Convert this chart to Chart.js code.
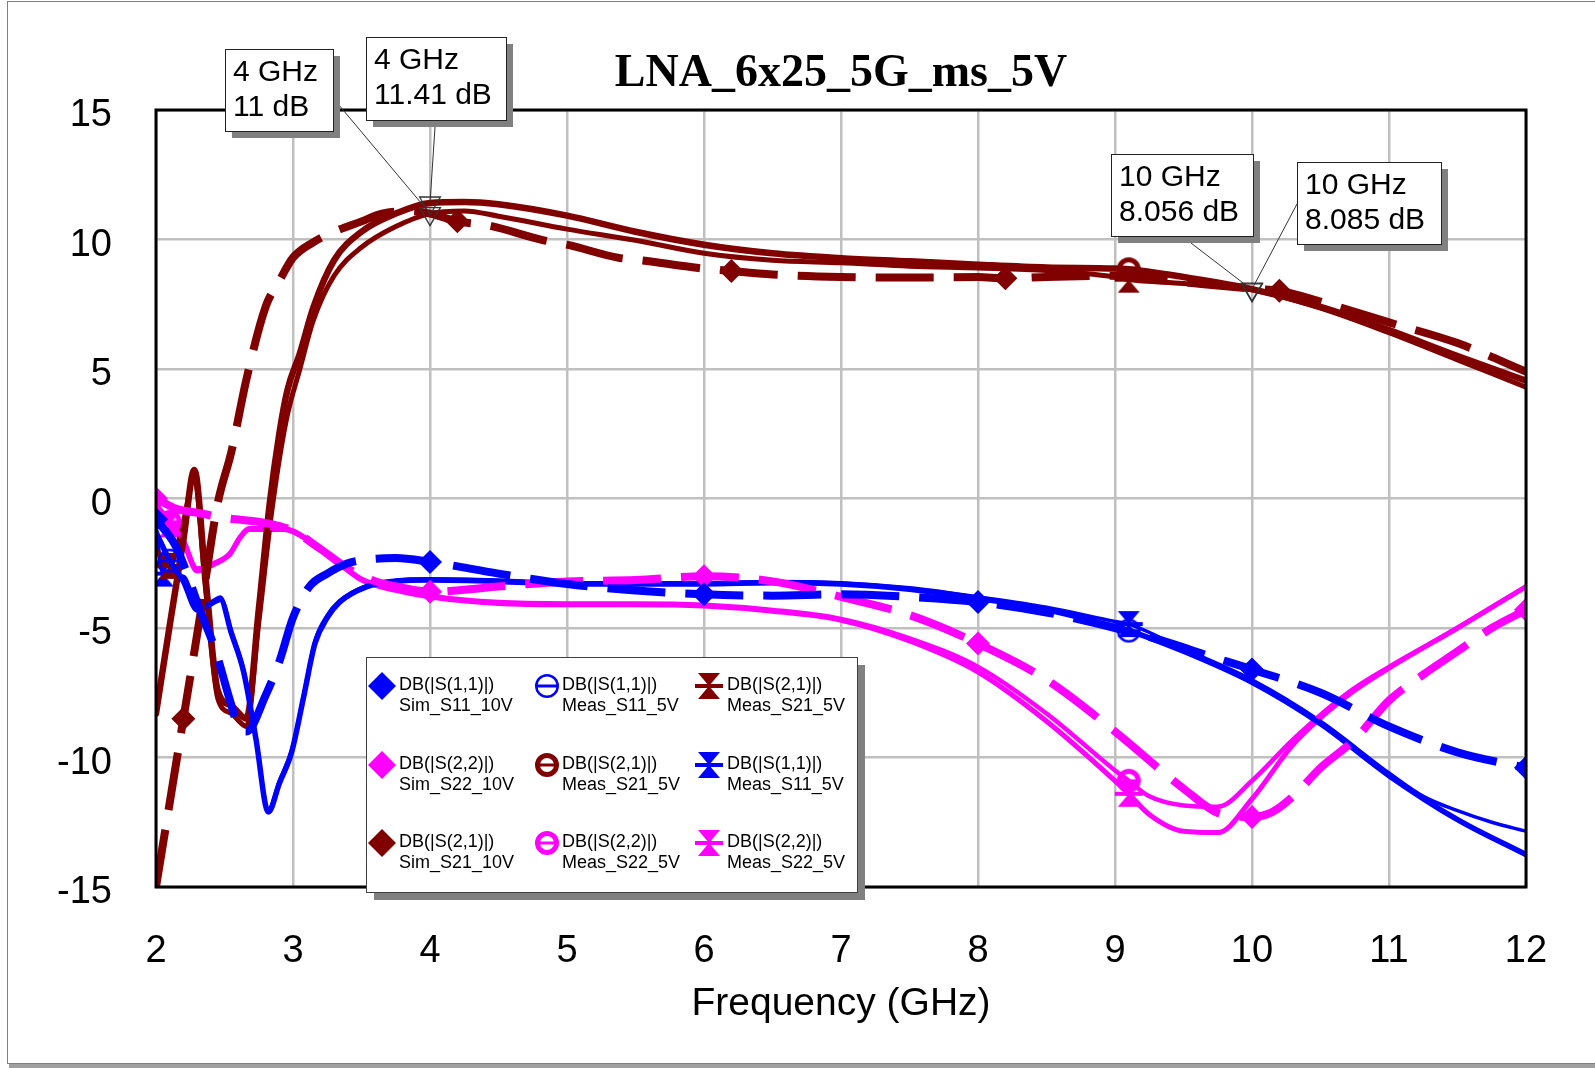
<!DOCTYPE html>
<html><head><meta charset="utf-8">
<script src="https://cdn.jsdelivr.net/npm/chart.js@4.4.1/dist/chart.umd.min.js"></script>
<style>html,body{margin:0;padding:0;background:#fff;overflow:hidden}canvas{display:block}</style>
</head><body>
<canvas id="c" width="1595" height="1068"></canvas>
<script>
// ---------- DATA ----------
const chartTitle = 'LNA_6x25_5G_ms_5V';
const xTitle = 'Frequency (GHz)';

// Sim S11 10V (blue, dashed, diamonds)
const freqSimS11 = [2.0,2.14,2.22,2.32,2.43,2.54,2.6,2.66,2.8,2.9,3.0,3.12,3.25,3.4,3.55,3.75,4.0,4.5,5.0,5.5,6.0,6.5,7.0,7.5,8.0,8.5,9.0,9.35,9.7,10.0,10.5,11.0,11.5,12.0];
const simS11 = [-0.8,-1.8,-2.8,-4.3,-5.8,-7.8,-8.8,-9.0,-7.6,-6.3,-4.6,-3.4,-2.9,-2.5,-2.35,-2.3,-2.45,-2.9,-3.3,-3.55,-3.7,-3.75,-3.7,-3.8,-4.0,-4.4,-5.0,-5.5,-6.1,-6.6,-7.5,-8.8,-9.8,-10.4];
// Sim S22 10V (magenta, dashed, diamonds)
const freqSimS22 = [2.0,2.15,2.3,2.5,2.8,3.0,3.2,3.4,3.6,3.8,4.0,4.5,5.0,5.5,6.0,6.5,7.0,7.5,8.0,8.5,9.0,9.5,9.78,10.0,10.15,10.3,10.5,10.75,11.0,11.25,11.5,11.75,12.0];
const simS22 = [0.0,-0.4,-0.55,-0.75,-0.95,-1.25,-1.95,-2.7,-3.2,-3.45,-3.6,-3.4,-3.2,-3.15,-3.0,-3.2,-3.8,-4.5,-5.6,-7.0,-9.0,-11.2,-12.2,-12.3,-12.1,-11.5,-10.4,-9.3,-7.8,-6.8,-5.9,-5.0,-4.3];
// Sim S21 10V (dark red, dashed, diamonds)
const freqSimS21 = [2.0,2.2,2.32,2.45,2.55,2.66,2.8,2.9,3.0,3.15,3.3,3.5,3.65,3.85,4.0,4.2,4.42,4.83,5.0,5.37,5.54,5.96,6.2,6.5,7.0,7.5,8.0,8.2,8.5,9.0,9.5,10.0,10.2,10.5,11.0,11.5,12.0];
const simS21 = [-15.0,-8.5,-4.6,-0.2,1.8,4.6,7.4,8.4,9.3,9.9,10.3,10.7,11.0,11.1,11.0,10.7,10.55,9.97,9.8,9.3,9.2,8.9,8.78,8.65,8.55,8.53,8.55,8.5,8.55,8.6,8.35,8.1,8.02,7.6,6.8,6.0,4.9];

// Meas S11 5V (blue, solid) – circle trace and hourglass trace
const freqMeasS11a = [2.0,2.1,2.2,2.3,2.39,2.47,2.55,2.64,2.73,2.82,2.9,2.99,3.08,3.16,3.25,3.34,3.54,3.75,4.0,4.5,5.0,5.5,6.0,6.5,7.0,7.5,8.0,8.5,9.0,9.1,9.5,10.0,10.5,11.0,11.5,12.0];
const measS11a = [-1.3,-2.4,-3.2,-4.3,-4.1,-3.9,-5.2,-6.7,-9.3,-12.1,-11.0,-9.8,-7.6,-5.6,-4.6,-4.0,-3.4,-3.2,-3.15,-3.2,-3.3,-3.3,-3.3,-3.25,-3.3,-3.5,-3.85,-4.3,-4.95,-5.1,-5.9,-7.1,-8.7,-10.7,-12.4,-13.75];
const freqMeasS11b = [2.0,2.05,2.2,2.3,2.39,2.47,2.55,2.64,2.73,2.82,2.9,2.99,3.08,3.16,3.25,3.34,3.54,3.75,4.0,4.5,5.0,5.5,6.0,6.5,7.0,7.5,8.0,8.5,9.0,9.1,9.5,10.0,10.5,11.0,11.25,11.5,11.75,12.0];
const measS11b = [-1.0,-2.9,-3.0,-4.0,-4.0,-3.8,-5.1,-6.6,-9.2,-12.0,-10.9,-9.7,-7.5,-5.5,-4.5,-3.95,-3.35,-3.15,-3.1,-3.15,-3.25,-3.25,-3.25,-3.2,-3.25,-3.45,-3.8,-4.2,-4.75,-4.85,-5.8,-7.0,-8.6,-10.6,-11.5,-12.05,-12.5,-12.85];

// Meas S21 5V (dark red, solid)
const freqMeasS21a = [2.0,2.1,2.2,2.28,2.36,2.45,2.55,2.66,2.75,2.83,2.9,2.96,3.05,3.15,3.3,3.5,3.75,4.0,4.25,4.5,5.0,5.5,6.0,6.5,7.0,7.5,8.0,8.5,9.0,9.1,9.5,10.0,10.5,11.0,11.5,12.0];
const measS21a = [-8.3,-4.9,-1.6,1.1,-3.0,-7.4,-8.0,-8.5,-4.3,-0.2,2.5,4.2,5.6,7.4,9.2,10.3,11.0,11.41,11.45,11.36,10.92,10.3,9.8,9.47,9.28,9.16,9.03,8.92,8.88,8.85,8.55,8.085,7.4,6.5,5.5,4.55];
const freqMeasS21b = [2.0,2.1,2.2,2.28,2.36,2.45,2.55,2.66,2.75,2.85,2.95,3.05,3.15,3.3,3.5,3.75,4.0,4.25,4.5,5.0,5.5,6.0,6.5,7.0,7.5,8.0,8.5,9.0,9.1,9.5,10.0,10.5,11.0,11.5,12.0];
const measS21b = [-2.0,-2.6,-0.9,0.8,-3.4,-7.7,-8.3,-8.8,-4.8,-0.3,3.0,5.0,6.9,8.6,9.7,10.5,11.0,11.1,10.9,10.4,9.97,9.47,9.2,9.1,8.97,8.9,8.8,8.55,8.45,8.3,8.056,7.35,6.4,5.35,4.3];

// Meas S22 5V (magenta, solid)
const freqMeasS22a = [2.0,2.1,2.2,2.3,2.42,2.54,2.61,2.68,2.93,3.12,3.3,3.5,3.75,4.0,4.5,5.0,5.5,6.0,6.5,7.0,7.5,8.0,8.5,9.0,9.1,9.25,9.5,9.75,10.0,10.3,10.7,11.0,11.5,12.0];
const measS22a = [-0.2,-0.9,-1.6,-2.7,-2.5,-2.1,-1.5,-1.15,-1.15,-1.6,-2.3,-3.1,-3.5,-3.75,-4.0,-4.05,-4.05,-4.1,-4.3,-4.65,-5.4,-6.5,-8.3,-10.5,-10.9,-11.5,-11.85,-11.9,-10.9,-9.3,-7.5,-6.5,-5.0,-3.4];
const freqMeasS22b = [2.0,2.1,2.2,2.3,2.42,2.54,2.61,2.68,2.93,3.12,3.3,3.5,3.75,4.0,4.5,5.0,5.5,6.0,6.5,7.0,7.5,8.0,8.5,9.0,9.1,9.25,9.5,9.75,10.0,10.3,10.7,11.0,11.5,12.0];
const measS22b = [-0.3,-1.0,-1.7,-2.8,-2.55,-2.15,-1.55,-1.2,-1.2,-1.65,-2.35,-3.15,-3.55,-3.8,-4.05,-4.1,-4.1,-4.15,-4.35,-4.7,-5.5,-6.7,-8.6,-10.9,-11.4,-12.2,-12.85,-12.9,-11.6,-9.5,-7.6,-6.55,-5.0,-3.4];

// marker frequencies (symbols on the traces)
const simMarkS11 = [2.0,4.0,6.0,8.0,10.0,12.0];
const simMarkS22 = [2.0,4.0,6.0,8.0,10.0,12.0];
const simMarkS21 = [2.2,4.2,6.2,8.2,10.2];
const measMarkA = [2.1,9.1];
const measMarkB = [2.05,2.1,9.1];

// marker readouts
const readFreq = [4, 4, 10, 10];
const readDb = [11, 11.41, 8.056, 8.085];

// legend text
const legendLine1 = ['DB(|S(1,1)|)','DB(|S(2,2)|)','DB(|S(2,1)|)','DB(|S(1,1)|)','DB(|S(2,1)|)','DB(|S(2,2)|)','DB(|S(2,1)|)','DB(|S(1,1)|)','DB(|S(2,2)|)'];
const legendLine2 = ['Sim_S11_10V','Sim_S22_10V','Sim_S21_10V','Meas_S11_5V','Meas_S21_5V','Meas_S22_5V','Meas_S21_5V','Meas_S11_5V','Meas_S22_5V'];

// ---------- STYLE ----------
const BLUE = '#0000ff', MAG = '#ff00ff', RED = '#800000';
const FONT = "'Liberation Sans', Arial, sans-serif";

function makeTheta(color, ring) {
  const c = document.createElement('canvas'); c.width = 28; c.height = 28;
  const g = c.getContext('2d');
  g.strokeStyle = color; g.lineWidth = ring;
  g.beginPath(); g.arc(14, 14, 12 - ring / 2, 0, Math.PI * 2); g.stroke();
  g.lineWidth = 3;
  g.beginPath(); g.moveTo(3, 14); g.lineTo(25, 14); g.stroke();
  return c;
}
function makeHourglass(color) {
  const c = document.createElement('canvas'); c.width = 30; c.height = 30;
  const g = c.getContext('2d');
  g.fillStyle = color;
  g.beginPath(); g.moveTo(4, 2); g.lineTo(26, 2); g.lineTo(15, 15); g.closePath(); g.fill();
  g.beginPath(); g.moveTo(4, 28); g.lineTo(26, 28); g.lineTo(15, 15); g.closePath(); g.fill();
  g.fillRect(1, 13, 28, 4);
  return c;
}

const pts = (f, v) => f.map((x, i) => ({ x, y: v[i] }));
const markAt = (list, r) => (ctx) => (ctx.raw && list.includes(ctx.raw.x)) ? r : 0;

function simDs(label, f, v, color, marks) {
  return { label, data: pts(f, v), borderColor: color, backgroundColor: color, borderWidth: 8,
    borderDash: [58, 20], borderCapStyle: 'butt', borderJoinStyle: 'round',
    cubicInterpolationMode: 'monotone', pointStyle: 'rectRot', pointRadius: markAt(marks, 12),
    pointBorderWidth: 0, pointBackgroundColor: color, fill: false };
}
function measDs(label, f, v, color, width, style, marks) {
  return { label, data: pts(f, v), borderColor: color, backgroundColor: color, borderWidth: width,
    borderCapStyle: 'round', borderJoinStyle: 'round', cubicInterpolationMode: 'monotone',
    pointStyle: style, pointRadius: markAt(marks, 11), fill: false };
}

const datasets = [
  simDs(legendLine1[0] + ' ' + legendLine2[0], freqSimS11, simS11, BLUE, simMarkS11),
  simDs(legendLine1[1] + ' ' + legendLine2[1], freqSimS22, simS22, MAG, simMarkS22),
  simDs(legendLine1[2] + ' ' + legendLine2[2], freqSimS21, simS21, RED, simMarkS21),
  measDs(legendLine1[3] + ' ' + legendLine2[3], freqMeasS11a, measS11a, BLUE, 5.5, makeTheta(BLUE, 2.5), measMarkA),
  measDs(legendLine1[4] + ' ' + legendLine2[4], freqMeasS21a, measS21a, RED, 6.5, makeTheta(RED, 5), [9.1]),
  measDs(legendLine1[5] + ' ' + legendLine2[5], freqMeasS22a, measS22a, MAG, 4.5, makeTheta(MAG, 5), measMarkA),
  measDs(legendLine1[6] + ' ' + legendLine2[6], freqMeasS21b, measS21b, RED, 5, makeHourglass(RED), measMarkA),
  measDs(legendLine1[7] + ' ' + legendLine2[7], freqMeasS11b, measS11b, BLUE, 3.5, makeHourglass(BLUE), measMarkB),
  measDs(legendLine1[8] + ' ' + legendLine2[8], freqMeasS22b, measS22b, MAG, 5, makeHourglass(MAG), measMarkA),
  { label: 'markers', data: pts(readFreq, readDb), showLine: false, pointStyle: 'triangle', rotation: 180,
    pointRadius: 12, pointBorderWidth: 1.3, pointBorderColor: '#333333', pointBackgroundColor: 'rgba(0,0,0,0)' }
];
// draw markers on top
const order = [9, 0, 1, 2, 3, 4, 5, 6, 7, 8];
const orderedDatasets = order.map(i => datasets[i]);

// ---------- LAYOUT (pixels) ----------
const AREA = { left: 156, right: 1526, top: 110, bottom: 887 };
const readBoxes = [
  { x: 225, y: 49, w: 108, h: 82, ax: 'right', ay: 49 },
  { x: 366, y: 37, w: 140, h: 83, ax: 'bottom', axx: 435 },
  { x: 1111, y: 154, w: 142, h: 82, ax: 'bottom', axx: 1191 },
  { x: 1297, y: 162, w: 144, h: 82, ax: 'left', ay: 42 }
];
const LEG = { x: 366, y: 657, w: 491, h: 235 };
const legCols = [{ mx: 382, tx: 399 }, { mx: 547, tx: 562 }, { mx: 709, tx: 727 }];
const legRows = [686, 765, 843];

const overlay = {
  id: 'overlay',
  afterDraw(chart) {
    const ctx = chart.ctx;
    const a = chart.chartArea;
    ctx.save();
    // plot border
    ctx.strokeStyle = '#000'; ctx.lineWidth = 3;
    ctx.strokeRect(a.left, a.top, a.right - a.left, a.bottom - a.top);

    // marker readouts
    const meta = chart.getDatasetMeta(0); // markers dataset is first
    ctx.font = '30px ' + FONT;
    ctx.textBaseline = 'alphabetic';
    readBoxes.forEach((b, i) => {
      const p = meta.data[i];
      let sx, sy;
      if (b.ax === 'right') { sx = b.x + b.w; sy = b.y + b.ay; }
      else if (b.ax === 'left') { sx = b.x; sy = b.y + b.ay; }
      else { sx = b.axx; sy = b.y + b.h + 7; }
      ctx.strokeStyle = '#333'; ctx.lineWidth = 1;
      ctx.beginPath(); ctx.moveTo(sx, sy); ctx.lineTo(p.x, p.y); ctx.stroke();
      ctx.fillStyle = '#808080';
      ctx.fillRect(b.x + 7, b.y + 7, b.w, b.h);
      ctx.fillStyle = '#fff';
      ctx.fillRect(b.x, b.y, b.w, b.h);
      ctx.strokeStyle = '#222'; ctx.lineWidth = 1;
      ctx.strokeRect(b.x + 0.5, b.y + 0.5, b.w, b.h);
      ctx.fillStyle = '#000';
      ctx.fillText(readFreq[i] + ' GHz', b.x + 8, b.y + 32);
      ctx.fillText(readDb[i] + ' dB', b.x + 8, b.y + 67);
    });

    // legend
    ctx.fillStyle = '#808080';
    ctx.fillRect(LEG.x + 8, LEG.y + 8, LEG.w, LEG.h);
    ctx.fillStyle = '#fff';
    ctx.fillRect(LEG.x, LEG.y, LEG.w, LEG.h);
    ctx.strokeStyle = '#404040'; ctx.lineWidth = 1;
    ctx.strokeRect(LEG.x + 0.5, LEG.y + 0.5, LEG.w, LEG.h);
    ctx.font = '18px ' + FONT;
    ctx.textBaseline = 'middle';
    for (let i = 0; i < 9; i++) {
      const col = legCols[Math.floor(i / 3)], ry = legRows[i % 3];
      const ds = datasets[i];
      const st = ds.pointStyle;
      if (typeof st === 'string') {
        ctx.fillStyle = ds.borderColor;
        const r = 14;
        ctx.beginPath();
        ctx.moveTo(col.mx, ry - r); ctx.lineTo(col.mx + r, ry); ctx.lineTo(col.mx, ry + r); ctx.lineTo(col.mx - r, ry);
        ctx.closePath(); ctx.fill();
      } else {
        ctx.drawImage(st, col.mx - st.width / 2, ry - st.height / 2);
      }
      ctx.fillStyle = '#000';
      ctx.fillText(legendLine1[i], col.tx, ry - 1);
      ctx.fillText(legendLine2[i], col.tx, ry + 20);
    }

    // outer frame
    ctx.strokeStyle = '#808080'; ctx.lineWidth = 1;
    ctx.strokeRect(7.5, 1.5, 1590, 1062);
    ctx.fillStyle = '#a0a0a0';
    ctx.fillRect(9, 1064, 1586, 4);
    ctx.restore();
  }
};

Chart.defaults.font.family = FONT;
Chart.defaults.color = '#000';

new Chart(document.getElementById('c'), {
  type: 'line',
  data: { datasets: orderedDatasets },
  options: {
    responsive: false, animation: false, devicePixelRatio: 1,
    layout: { padding: { left: 0, right: 1595 - AREA.right, top: 0, bottom: 0 } },
    plugins: {
      legend: { display: false }, tooltip: { enabled: false },
      title: { display: true, text: chartTitle, fullSize: false, color: '#000',
        font: { family: "'Liberation Serif', 'Times New Roman', serif", size: 46, weight: 'bold', lineHeight: 1.2 },
        padding: { top: 47, bottom: 110 - 47 - 55.2 } }
    },
    scales: {
      x: { type: 'linear', min: 2, max: 12,
        ticks: { stepSize: 1, font: { size: 38 }, color: '#000', padding: 42, maxRotation: 0 },
        grid: { color: '#c0c0c0', lineWidth: 2.5, drawTicks: false },
        border: { display: false },
        title: { display: true, text: xTitle, color: '#000', font: { size: 39 }, padding: { top: 0, bottom: 40 } },
        afterFit: (s) => { s.height = 1068 - AREA.bottom; } },
      y: { type: 'linear', min: -15, max: 15,
        ticks: { stepSize: 5, font: { size: 38 }, color: '#000', padding: 44, labelOffset: 6 },
        grid: { color: '#c0c0c0', lineWidth: 2.5, drawTicks: false },
        border: { display: false },
        afterFit: (s) => { s.width = AREA.left; } }
    }
  },
  plugins: [overlay]
});
</script>
</body></html>
